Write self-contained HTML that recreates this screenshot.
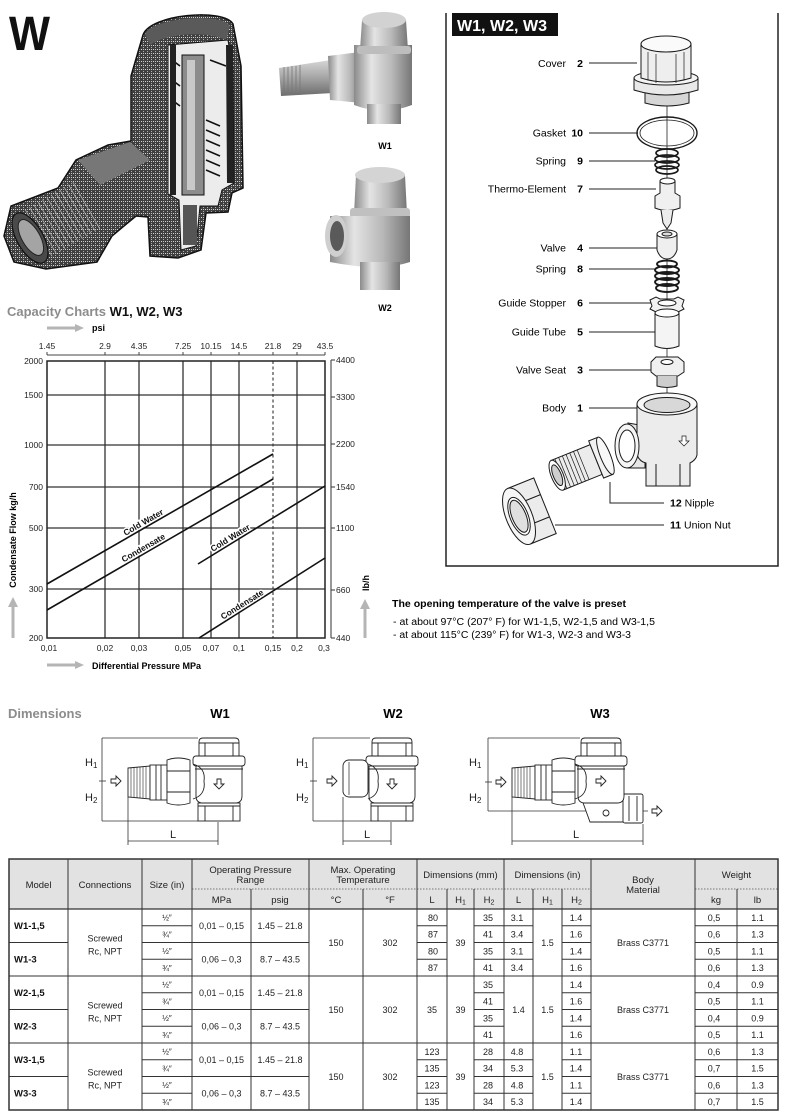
<!DOCTYPE html>
<html><head><meta charset="utf-8"><title>W Thermostatic Steam Trap</title>
<style>
html,body{margin:0;padding:0;background:#fff;width:786px;height:1116px;overflow:hidden}
svg{display:block}
text{font-family:"Liberation Sans",Arial,sans-serif}
</style></head><body>
<svg xmlns="http://www.w3.org/2000/svg" xmlns:xlink="http://www.w3.org/1999/xlink" width="786" height="1116" viewBox="0 0 786 1116">
<defs>
 <linearGradient id="metal" x1="0" y1="0" x2="1" y2="0">
  <stop offset="0" stop-color="#8a8a8a"/><stop offset=".3" stop-color="#e4e4e4"/><stop offset=".65" stop-color="#b9b9b9"/><stop offset="1" stop-color="#767676"/>
 </linearGradient>
 <linearGradient id="metalV" x1="0" y1="0" x2="0" y2="1">
  <stop offset="0" stop-color="#d6d6d6"/><stop offset=".45" stop-color="#a9a9a9"/><stop offset="1" stop-color="#6c6c6c"/>
 </linearGradient>
 <pattern id="stip" width="4" height="4" patternUnits="userSpaceOnUse">
  <rect width="4" height="4" fill="#3f3f3f"/><rect x="1" y="1" width="1" height="1" fill="#d8d8d8"/><rect x="3" y="3" width="1" height="1" fill="#b0b0b0"/><rect x="3" y="1" width="1" height="1" fill="#c4c4c4"/>
 </pattern>
 <g id="vbtop" stroke="#222" stroke-width=".9" fill="#fff">
  <path d="M3,27 L3,58 Q3,65 10,65 L42,65 Q49,65 49,58 L49,27 Z"/>
  <path d="M6,21 L6,4 Q6,0 10,0 L42,0 Q46,0 46,4 L46,21 Z"/>
  <line x1="6" y1="5" x2="46" y2="5"/>
  <rect x="12" y="5" width="28" height="14"/>
  <rect x="0" y="18" width="52" height="10" rx="3"/>
  <line x1="2" y1="31" x2="50" y2="31"/>
 </g>
 <g id="vbbot" stroke="#222" stroke-width=".9" fill="#fff">
  <rect x="5" y="65" width="42" height="18"/>
  <line x1="5" y1="68" x2="47" y2="68"/>
  <line x1="12" y1="68" x2="12" y2="83"/><line x1="40" y1="68" x2="40" y2="83"/>
 </g>
 <path id="arR" d="M-5,-2 L0,-2 L0,-5 L5,0 L0,5 L0,2 L-5,2 Z" fill="#fff" stroke="#222" stroke-width=".9"/>
</defs>

<!-- ===== Big W ===== -->
<text x="9" y="50" font-size="48" font-weight="bold" fill="#111" textLength="41" lengthAdjust="spacingAndGlyphs">W</text>

<!-- ===== Cutaway illustration ===== -->
<g>
 <path d="M143,35 C150,14 224,8 233,24 L241,66 L243,188 L232,193 L228,212 L206,213 L201,250 L178,258 L150,256 L148,217 L136,216 L112,236 L97,262 L46,269 L14,262 L4,236 L11,206 L58,188 L76,160 L108,145 L131,141 L131,76 Z" fill="url(#stip)" stroke="#111" stroke-width="1.5"/>
 <path d="M145,34 C152,18 222,12 230,26 L226,40 C205,30 165,34 150,45 Z" fill="#5a5a5a"/>
 <path d="M78,160 L130,142 L150,160 L100,185 Z" fill="#777"/>
 <path d="M168,45 L228,40 L233,70 L234,183 L222,190 L218,206 L200,206 L196,246 L181,250 L179,200 L168,194 Z" fill="#ececec" stroke="#111" stroke-width="1"/>
 <rect x="182" y="55" width="22" height="140" fill="#8c8c8c" stroke="#111"/>
 <rect x="187" y="60" width="8" height="130" fill="#c9c9c9"/>
 <g stroke="#111" stroke-width="1.6" fill="none">
  <path d="M206,120 L220,126 M206,130 L220,136 M206,140 L220,146 M206,150 L220,156 M206,160 L220,166 M206,170 L220,176"/>
  <path d="M172,60 L180,66 M210,60 L226,66 M172,80 L180,86 M172,100 L180,106"/>
 </g>
 <path d="M170,45 L176,45 L176,195 L170,195 Z" fill="#222"/>
 <path d="M226,45 L233,45 L234,183 L227,183 Z" fill="#222"/>
 <rect x="183" y="205" width="14" height="40" fill="#555"/>
 <g transform="translate(30,238) rotate(-30)">
  <g stroke="#a8a8a8" stroke-width=".8">
   <line x1="10" y1="-27" x2="10" y2="27"/><line x1="15" y1="-27" x2="15" y2="27"/><line x1="20" y1="-27" x2="20" y2="27"/><line x1="25" y1="-27" x2="25" y2="27"/><line x1="30" y1="-27" x2="30" y2="27"/><line x1="35" y1="-27" x2="35" y2="27"/><line x1="40" y1="-27" x2="40" y2="27"/><line x1="45" y1="-27" x2="45" y2="27"/><line x1="50" y1="-27" x2="50" y2="27"/><line x1="55" y1="-27" x2="55" y2="27"/><line x1="60" y1="-27" x2="60" y2="27"/><line x1="65" y1="-27" x2="65" y2="27"/>
  </g>
  <ellipse cx="0" cy="0" rx="13" ry="28" fill="#4a4a4a" stroke="#111" stroke-width="1.2"/>
  <ellipse cx="1" cy="0" rx="9" ry="20" fill="#a4a4a4" stroke="#222"/>
 </g>
</g>

<!-- ===== W1 photo ===== -->
<g>
 <path d="M279,68 L331,60 L333,93 L281,96 Z" fill="url(#metalV)"/>
 <g stroke="#777" stroke-width=".8"><line x1="284" y1="67" x2="284" y2="95"/><line x1="288" y1="67" x2="288" y2="95"/><line x1="292" y1="66" x2="292" y2="95"/><line x1="296" y1="66" x2="296" y2="95"/><line x1="300" y1="65" x2="300" y2="95"/></g>
 <path d="M328,56 L360,52 L362,103 L330,100 Z" fill="url(#metal)"/>
 <path d="M354,45 L412,45 L412,105 Q383,116 354,105 Z" fill="url(#metal)"/>
 <path d="M362,20 L406,20 L408,50 L360,50 Z" fill="url(#metal)"/>
 <ellipse cx="384" cy="20" rx="22" ry="8" fill="#d2d2d2"/>
 <rect x="357" y="46" width="54" height="8" rx="3" fill="#bdbdbd"/>
 <path d="M367,104 L401,104 L401,124 L367,124 Z" fill="url(#metal)"/>
 <text x="385" y="149" font-size="9" font-weight="bold" text-anchor="middle">W1</text>
</g>
<!-- ===== W2 photo ===== -->
<g>
 <path d="M356,175 L405,175 L407,214 L354,214 Z" fill="url(#metal)"/>
 <ellipse cx="380" cy="175" rx="25" ry="8" fill="#d4d4d4"/>
 <rect x="350" y="208" width="60" height="10" rx="3" fill="#c0c0c0"/>
 <path d="M330,216 L410,216 L410,262 Q380,272 330,262 Z" fill="url(#metal)"/>
 <ellipse cx="336" cy="236" rx="11" ry="21" fill="#cfcfcf"/>
 <ellipse cx="337" cy="236" rx="7" ry="15" fill="#5a5a5a"/>
 <path d="M360,262 L400,262 L400,290 L360,290 Z" fill="url(#metal)"/>
 <text x="385" y="311" font-size="9" font-weight="bold" text-anchor="middle">W2</text>
</g>

<!-- ===== Exploded view box ===== -->
<g>
 <path d="M446,13 L446,566 L778,566 L778,13" fill="none" stroke="#222" stroke-width="1.5"/>
 <rect x="452" y="13" width="106" height="23" fill="#111"/>
 <text x="457" y="31" font-size="16" font-weight="bold" fill="#fff" textLength="90" lengthAdjust="spacingAndGlyphs">W1, W2, W3</text>
 <g font-size="10.5" text-anchor="end">
  <text x="566" y="67">Cover</text>
  <text x="566" y="136.5">Gasket</text>
  <text x="566" y="164.5">Spring</text>
  <text x="566" y="192.5">Thermo-Element</text>
  <text x="566" y="251.5">Valve</text>
  <text x="566" y="272.5">Spring</text>
  <text x="566" y="306.5">Guide Stopper</text>
  <text x="566" y="335.5">Guide Tube</text>
  <text x="566" y="373.5">Valve Seat</text>
  <text x="566" y="411.5">Body</text>
 </g>
 <g font-size="10.5" font-weight="bold" text-anchor="end">
  <text x="583" y="67">2</text>
  <text x="583" y="136.5">10</text>
  <text x="583" y="164.5">9</text>
  <text x="583" y="192.5">7</text>
  <text x="583" y="251.5">4</text>
  <text x="583" y="272.5">8</text>
  <text x="583" y="306.5">6</text>
  <text x="583" y="335.5">5</text>
  <text x="583" y="373.5">3</text>
  <text x="583" y="411.5">1</text>
 </g>
 <text x="670" y="506.5" font-size="10.5"><tspan font-weight="bold">12</tspan> Nipple</text>
 <text x="670" y="528.5" font-size="10.5"><tspan font-weight="bold">11</tspan> Union Nut</text>
 <g stroke="#222" stroke-width="1" fill="none">
  <line x1="589" y1="63" x2="637" y2="63"/>
  <line x1="589" y1="133" x2="638" y2="133"/>
  <line x1="589" y1="161" x2="655" y2="161"/>
  <line x1="589" y1="189" x2="656" y2="189"/>
  <line x1="589" y1="248" x2="657" y2="248"/>
  <line x1="589" y1="269" x2="656" y2="269"/>
  <line x1="589" y1="303" x2="651" y2="303"/>
  <line x1="589" y1="332" x2="655" y2="332"/>
  <line x1="589" y1="370" x2="651" y2="370"/>
  <line x1="589" y1="408" x2="637" y2="408"/>
  <polyline points="610,482 610,503 664,503"/>
  <line x1="555" y1="525" x2="664" y2="525"/>
  <line x1="667" y1="100" x2="667" y2="400" stroke-width=".8"/>
 </g>
 <g stroke="#1a1a1a" stroke-width="1" fill="#fff">
  <path d="M645,92 L645,103 Q667,109 689,103 L689,92 Z" fill="#d6d6d6"/>
  <path d="M634,78 L634,90 Q666,100 698,90 L698,78 Z" fill="#e9e9e9"/>
  <ellipse cx="666" cy="78" rx="32" ry="7" fill="#f4f4f4"/>
  <path d="M641,44 L641,78 Q666,86 691,78 L691,44 Z" fill="#eeeeee"/>
  <ellipse cx="666" cy="44" rx="25" ry="8" fill="#fafafa"/>
  <path d="M648,52 L648,80 M656,54 L656,83 M676,54 L676,83 M684,52 L684,80" stroke-width=".7" fill="none"/>
  <ellipse cx="667" cy="133" rx="30" ry="16" fill="none" stroke-width="1.4"/>
  <ellipse cx="667" cy="133" rx="27" ry="13" fill="none" stroke-width=".8"/>
  <g fill="none" stroke-width="1.7">
   <ellipse cx="667" cy="153" rx="11" ry="4"/><ellipse cx="667" cy="159" rx="12" ry="4"/><ellipse cx="667" cy="165" rx="12" ry="4"/><ellipse cx="667" cy="170" rx="11" ry="4"/>
  </g>
  <path d="M660,181 L660,193 L655,196 L655,208 Q667,213 680,208 L680,196 L675,193 L675,181 Z" fill="#f0f0f0"/>
  <ellipse cx="667.5" cy="181" rx="7.5" ry="3" fill="#fff"/>
  <path d="M661,210 L663,223 L667,229 L671,223 L673,210" fill="#ececec"/>
  <path d="M657,234 L657,250 Q660,259 667,259 Q674,259 677,250 L677,234 Z" fill="#efefef"/>
  <ellipse cx="667" cy="234" rx="10" ry="4" fill="#fff"/>
  <ellipse cx="667" cy="234" rx="5" ry="2" fill="#ddd"/>
  <g fill="none" stroke-width="1.9">
   <ellipse cx="667" cy="264" rx="10" ry="3.5"/><ellipse cx="667" cy="270" rx="12" ry="4"/><ellipse cx="667" cy="276" rx="12" ry="4"/><ellipse cx="667" cy="282" rx="12" ry="4"/><ellipse cx="667" cy="288" rx="11" ry="4"/>
  </g>
  <path d="M650,300 L656,297 L660,299 L674,299 L678,297 L684,300 L682,306 L684,309 L678,312 L656,312 L650,309 L652,306 Z" fill="#f2f2f2"/>
  <ellipse cx="667" cy="303" rx="9" ry="3" fill="#fff"/>
  <path d="M655,313 L655,346 Q667,351 679,346 L679,313 Z" fill="#f4f4f4"/>
  <ellipse cx="667" cy="313" rx="12" ry="4" fill="#fff"/>
  <path d="M651,362 L656,357 L678,357 L684,362 L684,372 L678,376 L656,376 L651,372 Z" fill="#f0f0f0"/>
  <ellipse cx="667" cy="362" rx="6" ry="2.5"/>
  <path d="M657,376 L657,386 Q667,389 677,386 L677,376" fill="#cdcdcd"/>
  <path d="M628,423 L645,426 L645,468 L628,468 Z" fill="#e6e6e6"/>
  <path d="M637,404 L637,455 Q640,462 646,463 L646,486 L690,486 L690,463 Q696,460 697,455 L697,404 Z" fill="#ececec"/>
  <line x1="656" y1="464" x2="656" y2="486"/><line x1="680" y1="464" x2="680" y2="486"/>
  <ellipse cx="667" cy="404" rx="30" ry="11" fill="#f8f8f8"/>
  <ellipse cx="667" cy="405" rx="23" ry="7.5" fill="#d8d8d8"/>
  <ellipse cx="627" cy="446" rx="12" ry="22" fill="#f5f5f5"/>
  <ellipse cx="627" cy="446" rx="8" ry="16" fill="#fff"/>
  <path d="M682,436 L686,436 L686,441 L689,441 L684,446 L679,441 L682,441 Z" stroke-width=".7"/>
  <g transform="translate(585,464) rotate(-22)">
   <rect x="-30" y="-16" width="42" height="32" fill="#ececec"/>
   <g stroke-width=".7"><line x1="-26" y1="-16" x2="-26" y2="16"/><line x1="-22" y1="-16" x2="-22" y2="16"/><line x1="-18" y1="-16" x2="-18" y2="16"/><line x1="-14" y1="-16" x2="-14" y2="16"/><line x1="-10" y1="-16" x2="-10" y2="16"/><line x1="-6" y1="-16" x2="-6" y2="16"/><line x1="-2" y1="-16" x2="-2" y2="16"/></g>
   <ellipse cx="-30" cy="0" rx="6" ry="16" fill="#fff"/>
   <ellipse cx="-30" cy="0" rx="4" ry="11" fill="#cfcfcf"/>
   <rect x="12" y="-20" width="10" height="40" fill="#f2f2f2"/>
   <ellipse cx="22" cy="0" rx="5" ry="20" fill="#f8f8f8"/>
  </g>
  <g transform="translate(532,511) rotate(-22)">
   <path d="M-14,-30 L14,-30 L14,30 L-14,30 Z" fill="#ececec"/>
   <line x1="-14" y1="-12" x2="14" y2="-12"/><line x1="-14" y1="12" x2="14" y2="12"/>
   <ellipse cx="-14" cy="0" rx="13" ry="30" fill="#f6f6f6"/>
   <ellipse cx="-14" cy="0" rx="9" ry="20" fill="#fff"/>
   <ellipse cx="-14" cy="0" rx="7" ry="17" fill="#e0e0e0"/>
  </g>
 </g>
</g>

<!-- ===== Capacity chart ===== -->
<g>
 <text x="7" y="316" font-size="13" font-weight="bold" fill="#8c8c8c">Capacity Charts <tspan fill="#111">W1, W2, W3</tspan></text>
 <line x1="47" y1="328" x2="76" y2="328" stroke="#b5b5b5" stroke-width="3"/>
 <polygon points="75,324 84,328 75,332" fill="#b5b5b5"/>
 <text x="92" y="331" font-size="9" font-weight="bold">psi</text>
 <g stroke="#444" stroke-width="1">
  <line x1="47" y1="355" x2="325" y2="355"/>
  <line x1="47" y1="352" x2="47" y2="355"/><line x1="105" y1="352" x2="105" y2="355"/><line x1="139" y1="352" x2="139" y2="355"/><line x1="183" y1="352" x2="183" y2="355"/><line x1="211" y1="352" x2="211" y2="355"/><line x1="239" y1="352" x2="239" y2="355"/><line x1="273" y1="352" x2="273" y2="355"/><line x1="297" y1="352" x2="297" y2="355"/><line x1="325" y1="352" x2="325" y2="355"/>
 </g>
 <g font-size="8.5" text-anchor="middle" fill="#222">
  <text x="47" y="349">1.45</text><text x="105" y="349">2.9</text><text x="139" y="349">4.35</text><text x="183" y="349">7.25</text><text x="211" y="349">10.15</text><text x="239" y="349">14.5</text><text x="273" y="349">21.8</text><text x="297" y="349">29</text><text x="325" y="349">43.5</text>
 </g>
 <g stroke="#333" stroke-width="1.3">
  <line x1="105" y1="361" x2="105" y2="638"/><line x1="139" y1="361" x2="139" y2="638"/><line x1="183" y1="361" x2="183" y2="638"/><line x1="211" y1="361" x2="211" y2="638"/><line x1="239" y1="361" x2="239" y2="638"/><line x1="297" y1="361" x2="297" y2="638"/>
  <line x1="47" y1="395" x2="325" y2="395"/><line x1="47" y1="445" x2="325" y2="445"/><line x1="47" y1="487" x2="325" y2="487"/><line x1="47" y1="528" x2="325" y2="528"/><line x1="47" y1="589" x2="325" y2="589"/>
 </g>
 <line x1="273" y1="361" x2="273" y2="638" stroke="#333" stroke-width="1.1" stroke-dasharray="3,2.5"/>
 <rect x="47" y="361" width="278" height="277" fill="none" stroke="#222" stroke-width="1.5"/>
 <g font-size="8.5" text-anchor="end" fill="#222">
  <text x="43" y="364">2000</text><text x="43" y="398">1500</text><text x="43" y="448">1000</text><text x="43" y="490">700</text><text x="43" y="531">500</text><text x="43" y="592">300</text><text x="43" y="641">200</text>
 </g>
 <g font-size="8.5" text-anchor="middle" fill="#222">
  <text x="49" y="651">0,01</text><text x="105" y="651">0,02</text><text x="139" y="651">0,03</text><text x="183" y="651">0,05</text><text x="211" y="651">0,07</text><text x="239" y="651">0,1</text><text x="273" y="651">0,15</text><text x="297" y="651">0,2</text><text x="324" y="651">0,3</text>
 </g>
 <g stroke="#444" stroke-width="1.1">
  <line x1="331" y1="360" x2="331" y2="638"/>
  <line x1="331" y1="360" x2="335" y2="360"/><line x1="331" y1="397" x2="335" y2="397"/><line x1="331" y1="444" x2="335" y2="444"/><line x1="331" y1="487" x2="335" y2="487"/><line x1="331" y1="528" x2="335" y2="528"/><line x1="331" y1="590" x2="335" y2="590"/><line x1="331" y1="638" x2="335" y2="638"/>
 </g>
 <g font-size="8.5" fill="#222">
  <text x="336" y="363">4400</text><text x="336" y="400">3300</text><text x="336" y="447">2200</text><text x="336" y="490">1540</text><text x="336" y="531">1100</text><text x="336" y="593">660</text><text x="336" y="641">440</text>
 </g>
 <text transform="translate(369,583) rotate(-90)" font-size="9" font-weight="bold" text-anchor="middle">lb/h</text>
 <line x1="365" y1="638" x2="365" y2="608" stroke="#b5b5b5" stroke-width="3"/>
 <polygon points="360,609 365,599 370,609" fill="#b5b5b5"/>
 <text transform="translate(16,540) rotate(-90)" font-size="9" font-weight="bold" text-anchor="middle">Condensate Flow kg/h</text>
 <line x1="13" y1="638" x2="13" y2="606" stroke="#b5b5b5" stroke-width="3"/>
 <polygon points="8,607 13,597 18,607" fill="#b5b5b5"/>
 <line x1="47" y1="665" x2="76" y2="665" stroke="#b5b5b5" stroke-width="3"/>
 <polygon points="75,661 84,665 75,669" fill="#b5b5b5"/>
 <text x="92" y="669" font-size="9" font-weight="bold">Differential Pressure MPa</text>
 <g stroke="#111" stroke-width="1.6">
  <line x1="47" y1="584" x2="273" y2="454"/>
  <line x1="47" y1="610" x2="273" y2="479"/>
  <line x1="198" y1="564" x2="325" y2="486"/>
  <line x1="199" y1="638" x2="325" y2="558"/>
 </g>
 <g font-size="8.5" font-weight="bold" text-anchor="middle" fill="#111" stroke="#fff" stroke-width="3" paint-order="stroke">
  <text transform="translate(146,527) rotate(-30)" y="-2.5">Cold Water</text>
  <text transform="translate(146,552.5) rotate(-30)" y="-2.5">Condensate</text>
  <text transform="translate(233,542.5) rotate(-31.5)" y="-2.5">Cold Water</text>
  <text transform="translate(245,609) rotate(-32)" y="-2.5">Condensate</text>
 </g>
</g>

<!-- ===== Opening temperature note ===== -->
<text x="392" y="607" font-size="10" font-weight="bold" textLength="234" lengthAdjust="spacingAndGlyphs">The opening temperature of the valve is preset</text>
<text x="393" y="625" font-size="10" textLength="262" lengthAdjust="spacingAndGlyphs">- at about 97°C (207° F) for W1-1,5, W2-1,5 and W3-1,5</text>
<text x="393" y="638" font-size="10" textLength="238" lengthAdjust="spacingAndGlyphs">- at about 115°C (239° F) for W1-3, W2-3 and W3-3</text>

<!-- ===== Dimensions ===== -->
<text x="8" y="718" font-size="13" font-weight="bold" fill="#8c8c8c">Dimensions</text>
<g font-size="13" font-weight="bold" text-anchor="middle">
 <text x="220" y="718">W1</text><text x="393" y="718">W2</text><text x="600" y="718">W3</text>
</g>
<g stroke="#333" stroke-width=".8" fill="none">
 <line x1="102" y1="738" x2="198" y2="738"/><line x1="102" y1="738" x2="102" y2="821"/><line x1="102" y1="821" x2="198" y2="821"/><line x1="99" y1="781" x2="106" y2="781"/>
 <line x1="128" y1="797" x2="128" y2="845"/><line x1="218" y1="822" x2="218" y2="845"/><line x1="128" y1="841" x2="218" y2="841"/>
 <line x1="313" y1="738" x2="370" y2="738"/><line x1="313" y1="738" x2="313" y2="821"/><line x1="313" y1="821" x2="372" y2="821"/><line x1="310" y1="781" x2="317" y2="781"/>
 <line x1="343" y1="797" x2="343" y2="845"/><line x1="391" y1="822" x2="391" y2="845"/><line x1="343" y1="841" x2="391" y2="841"/>
 <line x1="488" y1="738" x2="580" y2="738"/><line x1="488" y1="738" x2="488" y2="811"/><line x1="488" y1="811" x2="648" y2="811"/><line x1="485" y1="782" x2="492" y2="782"/>
 <line x1="512" y1="796" x2="512" y2="845"/><line x1="643" y1="824" x2="643" y2="845"/><line x1="512" y1="841" x2="643" y2="841"/>
</g>
<g font-size="11" fill="#222">
 <text x="85" y="766">H<tspan font-size="8" dy="2">1</tspan></text><text x="85" y="801">H<tspan font-size="8" dy="2">2</tspan></text>
 <text x="296" y="766">H<tspan font-size="8" dy="2">1</tspan></text><text x="296" y="801">H<tspan font-size="8" dy="2">2</tspan></text>
 <text x="469" y="766">H<tspan font-size="8" dy="2">1</tspan></text><text x="469" y="801">H<tspan font-size="8" dy="2">2</tspan></text>
 <text x="173" y="838" text-anchor="middle">L</text><text x="367" y="838" text-anchor="middle">L</text><text x="576" y="838" text-anchor="middle">L</text>
</g>
<use xlink:href="#arR" href="#arR" transform="translate(116,781)"/>
<use xlink:href="#arR" href="#arR" transform="translate(332,781)"/>
<use xlink:href="#arR" href="#arR" transform="translate(501,782)"/>
<use xlink:href="#arR" href="#arR" transform="translate(657,811)"/>

<g stroke="#222" stroke-width=".9" fill="#fff">
 <path d="M128,768 L150,766 L150,799 L128,797 Z"/>
 <g stroke-width=".6"><line x1="131" y1="768" x2="131" y2="797"/><line x1="134" y1="768" x2="134" y2="797"/><line x1="137" y1="767" x2="137" y2="798"/><line x1="140" y1="767" x2="140" y2="798"/><line x1="143" y1="767" x2="143" y2="798"/><line x1="146" y1="767" x2="146" y2="798"/></g>
 <rect x="150" y="765" width="17" height="35"/>
 <line x1="156" y1="765" x2="156" y2="800"/><line x1="161" y1="765" x2="161" y2="800"/>
 <path d="M167,760 Q178,756 190,760 L190,803 Q178,807 167,803 Z"/>
 <line x1="167" y1="771" x2="190" y2="771"/><line x1="167" y1="792" x2="190" y2="792"/>
</g>
<use xlink:href="#vbbot" href="#vbbot" transform="translate(193,738)"/>
<use xlink:href="#vbtop" href="#vbtop" transform="translate(193,738)"/>
<path d="M193,764 Q206,768 204,781 Q206,795 193,799" fill="none" stroke="#222" stroke-width=".9"/>
<use xlink:href="#arR" href="#arR" transform="translate(219,784) rotate(90)"/>

<use xlink:href="#vbbot" href="#vbbot" transform="translate(366,738)"/>
<use xlink:href="#vbtop" href="#vbtop" transform="translate(366,738)"/>
<rect x="343" y="760" width="25" height="37" rx="6" fill="#fff" stroke="#222" stroke-width=".9"/>
<line x1="349" y1="762" x2="349" y2="795" stroke="#222" stroke-width=".7"/>
<path d="M368,764 Q380,768 378,781 Q380,795 368,799" fill="none" stroke="#222" stroke-width=".9"/>
<use xlink:href="#arR" href="#arR" transform="translate(392,784) rotate(90)"/>

<g stroke="#222" stroke-width=".9" fill="#fff">
 <path d="M582,800 L590,822 L625,822 L625,798 Z"/>
 <circle cx="606" cy="813" r="3"/>
 <rect x="623" y="794" width="20" height="29" rx="2"/>
 <line x1="629" y1="796" x2="629" y2="821"/><line x1="637" y1="796" x2="637" y2="821"/>
 <path d="M512,768 L535,766 L535,799 L512,797 Z"/>
 <g stroke-width=".6"><line x1="515" y1="768" x2="515" y2="797"/><line x1="518" y1="768" x2="518" y2="797"/><line x1="521" y1="767" x2="521" y2="798"/><line x1="524" y1="767" x2="524" y2="798"/><line x1="527" y1="767" x2="527" y2="798"/><line x1="530" y1="767" x2="530" y2="798"/></g>
 <rect x="535" y="765" width="17" height="35"/>
 <line x1="541" y1="765" x2="541" y2="800"/><line x1="546" y1="765" x2="546" y2="800"/>
 <path d="M552,760 Q563,756 575,760 L575,803 Q563,807 552,803 Z"/>
 <line x1="552" y1="771" x2="575" y2="771"/><line x1="552" y1="792" x2="575" y2="792"/>
</g>
<use xlink:href="#vbtop" href="#vbtop" transform="translate(575,738)"/>
<path d="M575,764 Q588,768 586,781 Q588,795 575,799" fill="none" stroke="#222" stroke-width=".9"/>
<use xlink:href="#arR" href="#arR" transform="translate(601,781)"/>

<!-- ===== Table ===== -->
<g>
 <rect x="9" y="859" width="769" height="50" fill="#e2e2e2"/>
 <g stroke="#777" stroke-width="1" stroke-dasharray="1.5,1.5">
  <line x1="192" y1="889" x2="417" y2="889"/><line x1="417" y1="889" x2="591" y2="889"/><line x1="695" y1="889" x2="778" y2="889"/>
 </g>
 <g stroke="#333" stroke-width="1">
  <line x1="68" y1="859" x2="68" y2="1110"/><line x1="142" y1="859" x2="142" y2="1110"/><line x1="192" y1="859" x2="192" y2="1110"/><line x1="309" y1="859" x2="309" y2="1110"/><line x1="417" y1="859" x2="417" y2="1110"/><line x1="504" y1="859" x2="504" y2="1110"/><line x1="591" y1="859" x2="591" y2="1110"/><line x1="695" y1="859" x2="695" y2="1110"/>
  <line x1="251" y1="889" x2="251" y2="1110"/><line x1="363" y1="889" x2="363" y2="1110"/><line x1="447" y1="889" x2="447" y2="1110"/><line x1="474" y1="889" x2="474" y2="1110"/><line x1="533" y1="889" x2="533" y2="1110"/><line x1="562" y1="889" x2="562" y2="1110"/><line x1="737" y1="889" x2="737" y2="1110"/>
  <line x1="9" y1="909" x2="778" y2="909" stroke-width="1.3"/>
  <line x1="9" y1="976" x2="778" y2="976"/><line x1="9" y1="1043" x2="778" y2="1043"/>
  <line x1="142" y1="925.75" x2="192" y2="925.75"/><line x1="417" y1="925.75" x2="447" y2="925.75"/><line x1="474" y1="925.75" x2="533" y2="925.75"/><line x1="562" y1="925.75" x2="591" y2="925.75"/><line x1="695" y1="925.75" x2="778" y2="925.75"/>
  <line x1="9" y1="942.5" x2="68" y2="942.5"/><line x1="142" y1="942.5" x2="309" y2="942.5"/><line x1="417" y1="942.5" x2="447" y2="942.5"/><line x1="474" y1="942.5" x2="533" y2="942.5"/><line x1="562" y1="942.5" x2="591" y2="942.5"/><line x1="695" y1="942.5" x2="778" y2="942.5"/>
  <line x1="142" y1="959.25" x2="192" y2="959.25"/><line x1="417" y1="959.25" x2="447" y2="959.25"/><line x1="474" y1="959.25" x2="533" y2="959.25"/><line x1="562" y1="959.25" x2="591" y2="959.25"/><line x1="695" y1="959.25" x2="778" y2="959.25"/>
  <line x1="142" y1="992.75" x2="192" y2="992.75"/><line x1="474" y1="992.75" x2="504" y2="992.75"/><line x1="562" y1="992.75" x2="591" y2="992.75"/><line x1="695" y1="992.75" x2="778" y2="992.75"/>
  <line x1="9" y1="1009.5" x2="68" y2="1009.5"/><line x1="142" y1="1009.5" x2="309" y2="1009.5"/><line x1="474" y1="1009.5" x2="504" y2="1009.5"/><line x1="562" y1="1009.5" x2="591" y2="1009.5"/><line x1="695" y1="1009.5" x2="778" y2="1009.5"/>
  <line x1="142" y1="1026.25" x2="192" y2="1026.25"/><line x1="474" y1="1026.25" x2="504" y2="1026.25"/><line x1="562" y1="1026.25" x2="591" y2="1026.25"/><line x1="695" y1="1026.25" x2="778" y2="1026.25"/>
  <line x1="142" y1="1059.75" x2="192" y2="1059.75"/><line x1="417" y1="1059.75" x2="447" y2="1059.75"/><line x1="474" y1="1059.75" x2="533" y2="1059.75"/><line x1="562" y1="1059.75" x2="591" y2="1059.75"/><line x1="695" y1="1059.75" x2="778" y2="1059.75"/>
  <line x1="9" y1="1076.5" x2="68" y2="1076.5"/><line x1="142" y1="1076.5" x2="309" y2="1076.5"/><line x1="417" y1="1076.5" x2="447" y2="1076.5"/><line x1="474" y1="1076.5" x2="533" y2="1076.5"/><line x1="562" y1="1076.5" x2="591" y2="1076.5"/><line x1="695" y1="1076.5" x2="778" y2="1076.5"/>
  <line x1="142" y1="1093.25" x2="192" y2="1093.25"/><line x1="417" y1="1093.25" x2="447" y2="1093.25"/><line x1="474" y1="1093.25" x2="533" y2="1093.25"/><line x1="562" y1="1093.25" x2="591" y2="1093.25"/><line x1="695" y1="1093.25" x2="778" y2="1093.25"/>
 </g>
 <rect x="9" y="859" width="769" height="251" fill="none" stroke="#333" stroke-width="1.5"/>
 <g font-size="9.5" text-anchor="middle" fill="#222">
  <text x="38.5" y="888">Model</text><text x="105" y="888">Connections</text><text x="167" y="888">Size (in)</text>
  <text x="250.5" y="873">Operating Pressure</text><text x="250.5" y="883">Range</text>
  <text x="221.5" y="903">MPa</text><text x="280" y="903">psig</text>
  <text x="363" y="873">Max. Operating</text><text x="363" y="883">Temperature</text>
  <text x="336" y="903">°C</text><text x="390" y="903">°F</text>
  <text x="460.5" y="878">Dimensions (mm)</text><text x="547.5" y="878">Dimensions (in)</text>
  <text x="432" y="903">L</text><text x="460.5" y="903">H<tspan font-size="7" dy="1.5">1</tspan></text><text x="489" y="903">H<tspan font-size="7" dy="1.5">2</tspan></text>
  <text x="518.5" y="903">L</text><text x="547.5" y="903">H<tspan font-size="7" dy="1.5">1</tspan></text><text x="576.5" y="903">H<tspan font-size="7" dy="1.5">2</tspan></text>
  <text x="643" y="883">Body</text><text x="643" y="893">Material</text>
  <text x="736.5" y="878">Weight</text><text x="716" y="903">kg</text><text x="757.5" y="903">lb</text>
 </g>
 <g font-size="9.5" font-weight="bold" fill="#111">
  <text x="14" y="929">W1-1,5</text><text x="14" y="962.5">W1-3</text>
  <text x="14" y="996">W2-1,5</text><text x="14" y="1029.5">W2-3</text>
  <text x="14" y="1063">W3-1,5</text><text x="14" y="1096.5">W3-3</text>
 </g>
 <g font-size="9" text-anchor="middle" fill="#222">
  <text x="105" y="941.5">Screwed</text><text x="105" y="954.5">Rc, NPT</text>
  <text x="105" y="1008.5">Screwed</text><text x="105" y="1021.5">Rc, NPT</text>
  <text x="105" y="1075.5">Screwed</text><text x="105" y="1088.5">Rc, NPT</text>
  <g font-size="8">
   <text x="167" y="920.5">½″</text><text x="167" y="937.3">¾″</text><text x="167" y="954">½″</text><text x="167" y="970.8">¾″</text>
   <text x="167" y="987.5">½″</text><text x="167" y="1004.3">¾″</text><text x="167" y="1021">½″</text><text x="167" y="1037.8">¾″</text>
   <text x="167" y="1054.5">½″</text><text x="167" y="1071.3">¾″</text><text x="167" y="1088">½″</text><text x="167" y="1104.8">¾″</text>
  </g>
  <text x="221.5" y="929">0,01 – 0,15</text><text x="221.5" y="962.5">0,06 – 0,3</text>
  <text x="221.5" y="996">0,01 – 0,15</text><text x="221.5" y="1029.5">0,06 – 0,3</text>
  <text x="221.5" y="1063">0,01 – 0,15</text><text x="221.5" y="1096.5">0,06 – 0,3</text>
  <text x="280" y="929">1.45 – 21.8</text><text x="280" y="962.5">8.7 – 43.5</text>
  <text x="280" y="996">1.45 – 21.8</text><text x="280" y="1029.5">8.7 – 43.5</text>
  <text x="280" y="1063">1.45 – 21.8</text><text x="280" y="1096.5">8.7 – 43.5</text>
  <text x="336" y="946">150</text><text x="390" y="946">302</text>
  <text x="336" y="1013">150</text><text x="390" y="1013">302</text>
  <text x="336" y="1080">150</text><text x="390" y="1080">302</text>
  <text x="643" y="946">Brass C3771</text><text x="643" y="1013">Brass C3771</text><text x="643" y="1080">Brass C3771</text>
  <text x="433" y="921">80</text><text x="433" y="937.6">87</text><text x="433" y="954.4">80</text><text x="433" y="971.1">87</text>
  <text x="460.5" y="946">39</text>
  <text x="488" y="921">35</text><text x="488" y="937.6">41</text><text x="488" y="954.4">35</text><text x="488" y="971.1">41</text>
  <text x="517" y="921">3.1</text><text x="517" y="937.6">3.4</text><text x="517" y="954.4">3.1</text><text x="517" y="971.1">3.4</text>
  <text x="547.5" y="946">1.5</text>
  <text x="576" y="921">1.4</text><text x="576" y="937.6">1.6</text><text x="576" y="954.4">1.4</text><text x="576" y="971.1">1.6</text>
  <text x="714" y="921">0,5</text><text x="714" y="937.6">0,6</text><text x="714" y="954.4">0,5</text><text x="714" y="971.1">0,6</text>
  <text x="757.5" y="921">1.1</text><text x="757.5" y="937.6">1.3</text><text x="757.5" y="954.4">1.1</text><text x="757.5" y="971.1">1.3</text>
  <text x="432" y="1013">35</text><text x="460.5" y="1013">39</text>
  <text x="488" y="987.9">35</text><text x="488" y="1004.6">41</text><text x="488" y="1021.4">35</text><text x="488" y="1038.1">41</text>
  <text x="518.5" y="1013">1.4</text><text x="547.5" y="1013">1.5</text>
  <text x="576" y="987.9">1.4</text><text x="576" y="1004.6">1.6</text><text x="576" y="1021.4">1.4</text><text x="576" y="1038.1">1.6</text>
  <text x="714" y="987.9">0,4</text><text x="714" y="1004.6">0,5</text><text x="714" y="1021.4">0,4</text><text x="714" y="1038.1">0,5</text>
  <text x="757.5" y="987.9">0.9</text><text x="757.5" y="1004.6">1.1</text><text x="757.5" y="1021.4">0.9</text><text x="757.5" y="1038.1">1.1</text>
  <text x="432" y="1054.9">123</text><text x="432" y="1071.6">135</text><text x="432" y="1088.4">123</text><text x="432" y="1105.1">135</text>
  <text x="460.5" y="1080">39</text>
  <text x="488" y="1054.9">28</text><text x="488" y="1071.6">34</text><text x="488" y="1088.4">28</text><text x="488" y="1105.1">34</text>
  <text x="517" y="1054.9">4.8</text><text x="517" y="1071.6">5.3</text><text x="517" y="1088.4">4.8</text><text x="517" y="1105.1">5.3</text>
  <text x="547.5" y="1080">1.5</text>
  <text x="576" y="1054.9">1.1</text><text x="576" y="1071.6">1.4</text><text x="576" y="1088.4">1.1</text><text x="576" y="1105.1">1.4</text>
  <text x="714" y="1054.9">0,6</text><text x="714" y="1071.6">0,7</text><text x="714" y="1088.4">0,6</text><text x="714" y="1105.1">0,7</text>
  <text x="757.5" y="1054.9">1.3</text><text x="757.5" y="1071.6">1.5</text><text x="757.5" y="1088.4">1.3</text><text x="757.5" y="1105.1">1.5</text>
 </g>
</g>
</svg>
</body></html>
